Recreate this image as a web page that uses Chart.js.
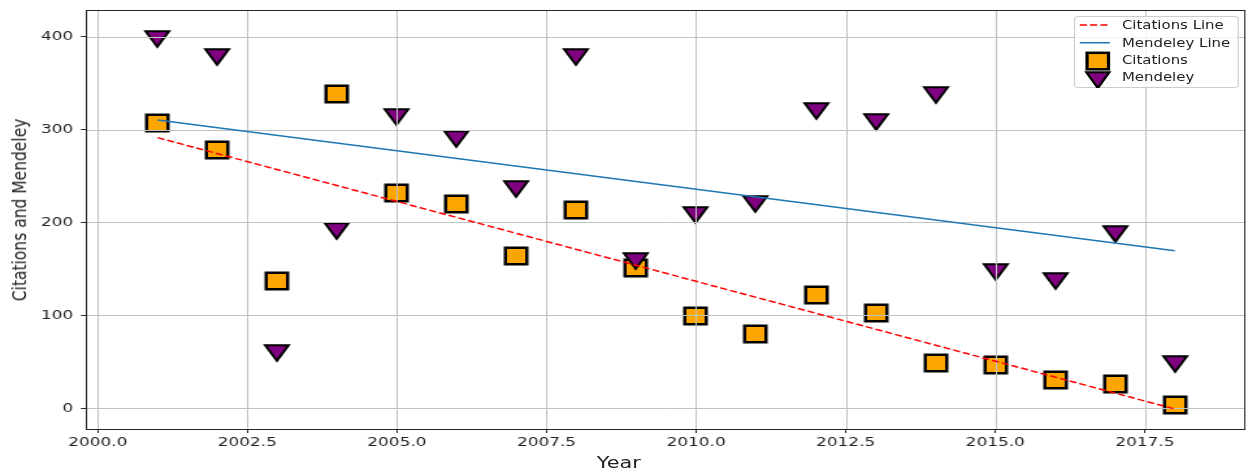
<!DOCTYPE html>
<html>
<head>
<meta charset="utf-8">
<script src="https://cdn.jsdelivr.net/npm/chart.js@4.4.1/dist/chart.umd.min.js"></script>
<style>
html, body { margin: 0; padding: 0; background: #fff; overflow: hidden; }
/* the reference is stretched sideways, so draw narrower and scale */
#wrap { position: relative; width: 960px; height: 470px; transform: scaleX(1.3); transform-origin: 0 0; font-family: 'DejaVu Sans', sans-serif; color: #222; }
#chart { position: absolute; left: 0; top: 0; }
.axis-title { position: absolute; white-space: nowrap; line-height: 1; font-size: 15.5px; }
#ylabel { left: 16.3px; top: 210px; transform: translate(-50%, -50%) rotate(-90deg); }
#xlabel { left: 476px; top: 455px; transform: translateX(-50%); font-size: 16px; }
#legend { position: absolute; left: 825.6px; top: 16px; }
</style>
</head>
<body>
<div id="wrap">
  <canvas id="chart" width="960" height="470"></canvas>
  <div class="axis-title" id="ylabel">Citations and Mendeley</div>
  <div class="axis-title" id="xlabel">Year</div>
  <svg id="legend" width="127" height="72">
    <rect x="0.5" y="0.5" width="126" height="71" rx="3" fill="#fff" fill-opacity="0.8" stroke="#cccccc"/>
    <line x1="4.6" x2="27.7" y1="9" y2="9" stroke="#ff0000" stroke-width="1.5" stroke-dasharray="5.5,2.4"/>
    <line x1="4.6" x2="27.7" y1="26.7" y2="26.7" stroke="#1f77b4" stroke-width="1.5"/>
    <rect x="10.2" y="36.8" width="16.5" height="16.5" fill="#ffa500" stroke="#000" stroke-width="2.5"/>
    <polygon points="9.7,56.3 27.3,56.3 18.5,72" fill="#800080" stroke="#000" stroke-width="2"/>
    <g font-family="DejaVu Sans" font-size="11.5" fill="#222">
      <text x="37" y="13.2">Citations Line</text>
      <text x="37" y="30.9">Mendeley Line</text>
      <text x="37" y="48.2">Citations</text>
      <text x="37" y="65.5">Mendeley</text>
    </g>
  </svg>
</div>
<script>
// values
const years = [2001, 2002, 2003, 2004, 2005, 2006, 2007, 2008, 2009,
               2010, 2011, 2012, 2013, 2014, 2015, 2016, 2017, 2018];
const citations = [307, 278, 136.5, 338, 231.5, 220, 164, 213, 151,
                   99, 80, 122, 103, 49, 47, 30, 26, 3];
const mendeley = [398, 378.5, 60, 191, 314, 290, 235.5, 378, 159,
                  208, 220, 320.5, 308, 337, 147, 137, 188, 48];

// fitted lines, end points only
const lineYears = [2001, 2018];
const citationsLine = [291.3, -0.8];
const mendeleyLine = [310.4, 169.6];

const xStep = 2.5;
const yStep = 100;

function pts(xs, ys) {
    return xs.map((x, i) => ({ x: x, y: ys[i] }));
}

// marker images, drawn like matplotlib 's' and 'v'
function squareMarker() {
    const c = document.createElement('canvas');
    c.width = 24; c.height = 24;
    const g = c.getContext('2d');
    g.lineJoin = 'miter';
    g.fillStyle = '#ffa500';
    g.strokeStyle = '#000';
    g.lineWidth = 2.5;
    g.beginPath();
    g.rect(3.75, 3.75, 16.5, 16.5);
    g.fill();
    g.stroke();
    return c;
}

function triangleMarker() {
    const c = document.createElement('canvas');
    c.width = 26; c.height = 24;
    const g = c.getContext('2d');
    g.lineJoin = 'miter';
    g.fillStyle = '#800080';
    g.strokeStyle = '#000';
    g.lineWidth = 2;
    g.beginPath();
    g.moveTo(4, 4.2);
    g.lineTo(22, 4.2);
    g.lineTo(13, 19.8);
    g.closePath();
    g.fill();
    g.stroke();
    return c;
}

// keep the marker images crisp
const crisp = {
    id: 'crisp',
    beforeDatasetsDraw(chart) {
        chart.ctx.imageSmoothingEnabled = false;
    },
    afterDatasetsDraw(chart) {
        chart.ctx.imageSmoothingEnabled = true;
    }
};

// grid goes over the markers but under the lines, like matplotlib
const gridOver = {
    id: 'gridOver',
    afterDatasetDraw(chart, args) {
        if (args.index !== 2) return;
        const ctx = chart.ctx;
        const a = chart.chartArea;
        const xs = chart.scales.x, ys = chart.scales.y;
        ctx.save();
        ctx.strokeStyle = '#c2c2c2';
        ctx.lineWidth = 1;
        ctx.beginPath();
        xs.ticks.forEach(t => {
            const px = Math.round(xs.getPixelForValue(t.value)) + 0.5;
            ctx.moveTo(px, a.top);
            ctx.lineTo(px, a.bottom);
        });
        ys.ticks.forEach(t => {
            const py = Math.round(ys.getPixelForValue(t.value)) + 0.5;
            ctx.moveTo(a.left, py);
            ctx.lineTo(a.right, py);
        });
        ctx.stroke();
        ctx.restore();
    }
};

// axes frame on all four sides
const frame = {
    id: 'frame',
    afterDatasetsDraw(chart) {
        const ctx = chart.ctx;
        const a = chart.chartArea;
        ctx.save();
        ctx.strokeStyle = '#262626';
        ctx.lineWidth = 1;
        ctx.strokeRect(Math.round(a.left) + 0.5, Math.round(a.top) + 0.5,
                       Math.round(a.right - a.left), Math.round(a.bottom - a.top));
        ctx.restore();
    }
};

const tickFont = { family: 'DejaVu Sans', size: 13 };

new Chart(document.getElementById('chart').getContext('2d'), {
    type: 'scatter',
    data: {
        datasets: [
            {
                label: 'Citations Line',
                data: pts(lineYears, citationsLine),
                showLine: true,
                borderColor: '#ff0000',
                borderWidth: 1.5,
                borderDash: [5.5, 2.4],
                pointRadius: 0
            },
            {
                label: 'Mendeley Line',
                data: pts(lineYears, mendeleyLine),
                showLine: true,
                borderColor: '#1f77b4',
                borderWidth: 1.5,
                pointRadius: 0
            },
            {
                label: 'Mendeley',
                data: pts(years, mendeley),
                pointStyle: triangleMarker(),
                pointRadius: 10
            },
            {
                label: 'Citations',
                data: pts(years, citations),
                pointStyle: squareMarker(),
                pointRadius: 10
            }
        ]
    },
    options: {
        responsive: false,
        animation: false,
        events: [],
        layout: { autoPadding: false, padding: { top: 10, right: 3, left: 0, bottom: 0 } },
        plugins: {
            legend: { display: false },
            tooltip: { enabled: false }
        },
        scales: {
            x: {
                type: 'linear',
                min: 1999.805,
                max: 2019.158,
                afterFit: s => { s.height = 41; s.paddingLeft = 0; s.paddingRight = 0; },
                border: { display: false },
                grid: { color: 'rgba(0,0,0,0)', tickColor: '#262626', tickLength: 4 },
                ticks: {
                    stepSize: xStep,
                    includeBounds: false,
                    autoSkip: false,
                    maxRotation: 0,
                    padding: 2,
                    color: '#222',
                    font: tickFont,
                    callback: v => Number(v).toFixed(1)
                }
            },
            y: {
                min: -22.3,
                max: 428.7,
                afterFit: s => { s.width = 66.2; s.paddingTop = 0; s.paddingBottom = 0; },
                border: { display: false },
                grid: { color: 'rgba(0,0,0,0)', tickColor: '#262626', tickLength: 4 },
                ticks: {
                    stepSize: yStep,
                    includeBounds: false,
                    padding: 6,
                    color: '#222',
                    font: tickFont
                }
            }
        }
    },
    plugins: [crisp, gridOver, frame]
});
</script>
</body>
</html>
